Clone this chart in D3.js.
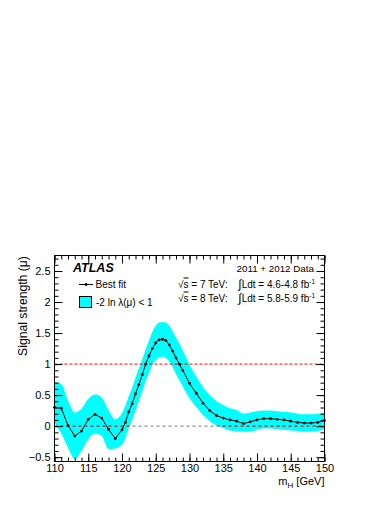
<!DOCTYPE html>
<html><head><meta charset="utf-8">
<script src="https://cdn.jsdelivr.net/npm/d3@7"></script>
<style>
html,body{margin:0;padding:0;background:#fff;}
svg{display:block;font-family:"Liberation Sans",Arial,Helvetica,sans-serif;}
</style></head>
<body>
<svg id="chart" width="390" height="505"></svg>
<script>
// ---- data ----
const masses = [110,111,112,113,114,115,116,117,118,119,120,
  120.5,121,121.5,122,122.5,123,123.5,124,124.5,125,125.5,126,126.5,127,127.5,128,128.5,129,
  130,131,132,133,134,135,136,137,138,139,140,141,142,143,144,145,146,147,148,149,150];
const bestFit = [0.30,0.29,0.01,-0.16,-0.08,0.11,0.19,0.13,-0.05,-0.20,-0.06,
  0.06,0.23,0.36,0.52,0.67,0.83,1.00,1.13,1.25,1.34,1.39,1.40,1.38,1.31,1.21,1.10,1.00,0.90,
  0.69,0.53,0.37,0.25,0.17,0.13,0.10,0.08,0.04,0.07,0.10,0.12,0.12,0.11,0.10,0.08,0.06,0.05,0.05,0.06,0.09];
const bandHigh = [0.71,0.68,0.41,0.22,0.28,0.44,0.51,0.46,0.26,0.11,0.21,
  0.33,0.48,0.62,0.78,0.93,1.08,1.24,1.38,1.52,1.62,1.67,1.68,1.67,1.62,1.53,1.43,1.33,1.22,
  0.99,0.80,0.63,0.50,0.40,0.34,0.29,0.26,0.20,0.22,0.24,0.25,0.25,0.24,0.23,0.22,0.20,0.19,0.19,0.20,0.22];
const bandLow = [0.05,-0.12,-0.35,-0.53,-0.40,-0.21,-0.12,-0.16,-0.37,-0.36,-0.30,
  -0.19,-0.04,0.10,0.25,0.40,0.56,0.72,0.86,0.98,1.07,1.11,1.12,1.10,1.04,0.95,0.84,0.74,0.64,
  0.45,0.31,0.18,0.08,0.01,-0.03,-0.07,-0.08,-0.09,-0.09,-0.06,-0.04,-0.04,-0.05,-0.06,-0.07,-0.08,-0.09,-0.09,-0.08,-0.05];
const xTicks = [110,115,120,125,130,135,140,145,150];
const yTicks = [-0.5,0,0.5,1,1.5,2,2.5];
const refLines = [1,0];

const svg = d3.select("#chart");
const L = 54.5, R = 324.5, T = 255.5, B = 461.5;
const x = d3.scaleLinear().domain([110,150]).range([L,R]);
const y = d3.scaleLinear().domain([-0.57,2.75]).range([B,T]);

const pts = masses.map((m,i)=>({m, v:bestFit[i], lo:bandLow[i], hi:bandHigh[i]}));

// band
const area = d3.area().x(d=>x(d.m)).y0(d=>y(d.lo)).y1(d=>y(d.hi)).curve(d3.curveMonotoneX);
svg.append("defs").append("clipPath").attr("id","bandclip")
  .append("path").attr("d", area(pts));
svg.append("path").attr("d", area(pts)).attr("fill","#00ffff").attr("stroke","none");

// reference lines
svg.append("line").attr("x1",L).attr("x2",R).attr("y1",y(refLines[1])).attr("y2",y(refLines[1]))
  .attr("stroke","#777").attr("stroke-width",1).attr("stroke-dasharray","3,3");
svg.append("line").attr("x1",L).attr("x2",R).attr("y1",y(refLines[1])).attr("y2",y(refLines[1]))
  .attr("stroke","#d03030").attr("stroke-width",1).attr("stroke-dasharray","3,3")
  .attr("clip-path","url(#bandclip)");
svg.append("line").attr("x1",L).attr("x2",R).attr("y1",y(refLines[0])).attr("y2",y(refLines[0]))
  .attr("stroke","#ff0000").attr("stroke-width",1).attr("stroke-dasharray","3,2");

// best fit line + markers
svg.append("path").attr("d", d3.line().x(d=>x(d.m)).y(d=>y(d.v))(pts))
  .attr("fill","none").attr("stroke","#000").attr("stroke-width",1);
svg.append("g").selectAll("circle").data(pts).join("circle")
  .attr("cx",d=>x(d.m)).attr("cy",d=>y(d.v)).attr("r",1.4).attr("fill","#000");

// axes (ROOT style inward ticks)
function styleAxis(g){ g.select(".domain").remove(); g.selectAll("line").attr("stroke","#000"); }
const fs = 11;
svg.append("g").attr("transform",`translate(0,${B})`)
  .call(d3.axisBottom(x).tickValues(d3.range(110,151,1)).tickSize(-4).tickFormat(""))
  .call(styleAxis);
svg.append("g").attr("transform",`translate(0,${B})`)
  .call(d3.axisBottom(x).tickValues(xTicks).tickSize(-8).tickPadding(3).tickFormat(d3.format("d")))
  .call(styleAxis)
  .call(g=>g.selectAll("text").attr("font-size",fs).attr("fill","#000").attr("font-family","Liberation Sans, Arial, sans-serif"));
svg.append("g").attr("transform",`translate(0,${T})`)
  .call(d3.axisTop(x).tickValues(d3.range(110,151,1)).tickSize(-4).tickFormat(""))
  .call(styleAxis);
svg.append("g").attr("transform",`translate(0,${T})`)
  .call(d3.axisTop(x).tickValues(xTicks).tickSize(-8).tickFormat(""))
  .call(styleAxis);
const yMinor = d3.range(-5,28,1).map(d=>d/10);
svg.append("g").attr("transform",`translate(${L},0)`)
  .call(d3.axisLeft(y).tickValues(yMinor).tickSize(-4).tickFormat(""))
  .call(styleAxis);
svg.append("g").attr("transform",`translate(${L},0)`)
  .call(d3.axisLeft(y).tickValues(yTicks).tickSize(-8).tickPadding(4).tickFormat(d=>d3.format("")(d)))
  .call(styleAxis)
  .call(g=>g.selectAll("text").attr("font-size",fs).attr("fill","#000").attr("font-family","Liberation Sans, Arial, sans-serif"));
svg.append("g").attr("transform",`translate(${R},0)`)
  .call(d3.axisRight(y).tickValues(yMinor).tickSize(-4).tickFormat(""))
  .call(styleAxis);
svg.append("g").attr("transform",`translate(${R},0)`)
  .call(d3.axisRight(y).tickValues(yTicks).tickSize(-8).tickFormat(""))
  .call(styleAxis);

// frame
svg.append("rect").attr("x",L).attr("y",T).attr("width",R-L).attr("height",B-T)
  .attr("fill","none").attr("stroke","#000").attr("stroke-width",1);

// axis titles
const xt = svg.append("text").attr("x",R).attr("y",485).attr("text-anchor","end").attr("font-size",11);
xt.append("tspan").text("m");
xt.append("tspan").attr("font-size",8).attr("dy",3).text("H");
xt.append("tspan").attr("dy",-3).text(" [GeV]");
svg.append("text").attr("transform",`translate(27,306) rotate(-90)`).attr("text-anchor","middle")
  .attr("font-size",12.2).text("Signal strength (\u03bc)");

// ATLAS label
svg.append("text").attr("x",73).attr("y",271.5).attr("font-size",12.5).attr("font-weight","bold")
  .attr("font-style","italic").text("ATLAS");

// legend
svg.append("line").attr("x1",79).attr("x2",93).attr("y1",284.5).attr("y2",284.5).attr("stroke","#000");
svg.append("circle").attr("cx",86).attr("cy",284.5).attr("r",1.4).attr("fill","#000");
svg.append("text").attr("x",95.5).attr("y",288).attr("font-size",10).text("Best fit");
svg.append("rect").attr("x",79.5).attr("y",296.5).attr("width",12).attr("height",11)
  .attr("fill","#00ffff").attr("stroke","#000").attr("stroke-width",1);
svg.append("text").attr("x",96).attr("y",306).attr("font-size",10).text("-2 ln \u03bb(\u03bc) < 1");

// energy / luminosity text
svg.append("text").attr("x",314).attr("y",272).attr("text-anchor","end").attr("font-size",9.8).text("2011 + 2012 Data");
function lumiLine(yb, e, lumi){
  const a = svg.append("text").attr("x",178).attr("y",yb).attr("font-size",10);
  a.append("tspan").text("\u221a");
  a.append("tspan").attr("text-decoration","overline").text("s");
  a.append("tspan").text(" = " + e + " TeV:");
  const b = svg.append("text").attr("x",315).attr("y",yb).attr("text-anchor","end").attr("font-size",10);
  b.append("tspan").attr("font-size",12).text("\u222b");
  b.append("tspan").text("Ldt = " + lumi + " fb");
  b.append("tspan").attr("font-size",6.5).attr("dy",-4).text("-1");
}
lumiLine(287.5, "7", "4.6-4.8");
lumiLine(301.5, "8", "5.8-5.9");
</script>
</body></html>
